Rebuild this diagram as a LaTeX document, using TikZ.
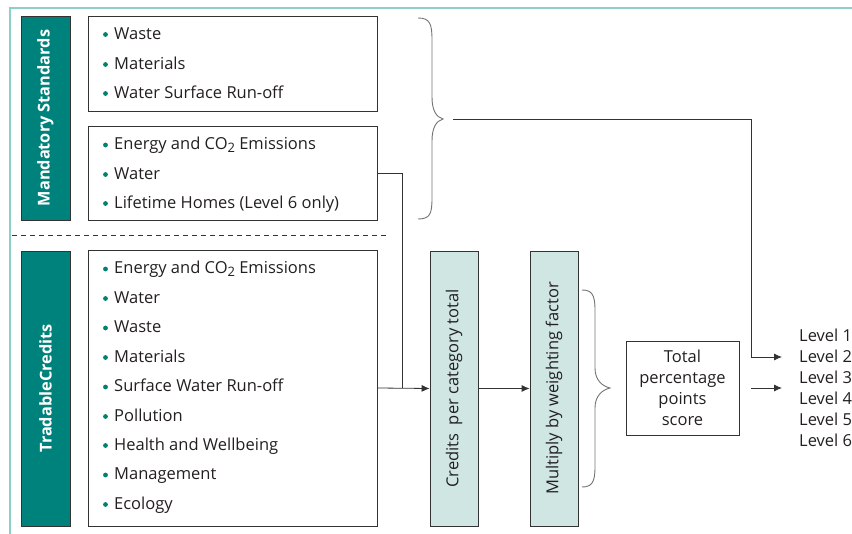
\documentclass[tikz,border=0pt]{standalone}
\usepackage{fontspec}
\setmainfont{Open Sans}
\usetikzlibrary{arrows.meta}
\definecolor{darkteal}{HTML}{00827C}
\definecolor{lightteal}{HTML}{CFE6E3}
\definecolor{framecol}{HTML}{8DCFC9}
\definecolor{bulletcol}{HTML}{00826E}
\definecolor{linecol}{HTML}{333333}
\definecolor{textcol}{HTML}{231F20}
\newcommand{\cotwo}{CO\raisebox{-0.3ex}{\fontsize{13}{13}\selectfont 2}}
\begin{document}
\begin{tikzpicture}[x=1pt,y=-1pt,font=\fontsize{16.5}{21}\selectfont,text=textcol,
  sidebox/.style={draw=linecol,fill=darkteal,line width=0.8pt,minimum width=49pt,inner sep=0pt},
  listbox/.style={draw=linecol,line width=0.8pt,minimum width=289pt,inner sep=0pt},
  stepbar/.style={draw=linecol,fill=lightteal,line width=0.8pt,minimum width=48pt,minimum height=275pt,inner sep=0pt},
  sidelabel/.style={rotate=90,text=white,font=\fontsize{16.3}{18}\selectfont\bfseries},
  item/.style={anchor=base west,inner sep=0pt},
  conn/.style={draw=linecol,line width=0.8pt},
  arr/.style={conn,-{Latex[length=8pt,width=7pt]}},
  bracecol/.style={draw=gray!90!black,line width=0.9pt}]
\useasboundingbox (0,0) rectangle (852,534);
% outer frame
\draw[framecol,line width=1.6pt] (10,534) -- (10,8) -- (852,8);
% side labels
\node[sidebox,minimum height=204pt] (ms) at (45.5,118) {};
\node[sidelabel] (msl) at (ms.center) {Mandatory Standards};
\node[sidebox,minimum height=275pt] (tc) at (45.5,388.5) {};
\node[sidelabel] (tcl) at (tc.center) {TradableCredits};
% list boxes
\node[listbox,minimum height=95pt] (m1) at (232.5,63.5) {};
\node[listbox,minimum height=94pt] (m2) at (232.5,173) {};
\node[listbox,minimum height=276pt] (tl) at (232.5,388) {};
% items
\foreach \n/\y/\t in {a1/39.5/Waste, a2/69.5/Materials, a3/98.5/Water Surface Run-off,
  b2/179.5/Water, b3/208.5/Lifetime Homes (Level 6 only),
  c2/303.5/Water, c3/333/Waste, c4/362.5/Materials, c5/392/Surface Water Run-off,
  c6/421.5/Pollution, c7/450.5/Health and Wellbeing, c8/480/Management, c9/509.5/Ecology}{
  \node[item] (\n) at (114,\y) {\t};
  \fill[bulletcol] (105.5,\y-5) circle (2.4pt);
}
\node[item] (b1) at (114,150) {Energy and \cotwo{} Emissions};
\fill[bulletcol] (105.5,145) circle (2.4pt);
\node[item] (c1) at (114,274) {Energy and \cotwo{} Emissions};
\fill[bulletcol] (105.5,269) circle (2.4pt);
% dashed separator
\draw[linecol,line width=0.8pt,dash pattern=on 5pt off 4pt] (12,235) -- (386,235);
% step bars
\node[stepbar] (cr) at (454,388.5) {};
\node[rotate=90] (crl) at (cr.center) {Credits\ \ per category total};
\node[stepbar] (mu) at (554,388.5) {};
\node[rotate=90] (mul) at (mu.center) {Multiply by weighting factor};
% total box
\node[draw=linecol,line width=0.8pt,minimum width=113pt,minimum height=94pt,align=center,inner sep=0pt] (tot) at (682.5,388) {Total\\percentage\\points\\score};
% levels
\node[anchor=west,align=left,inner sep=0pt] (lev) at (799,387.5) {Level 1\\Level 2\\Level 3\\Level 4\\Level 5\\Level 6};
% braces
\draw[bracecol] (418,18) .. controls (430,18) and (432,24) .. (432,40) -- (432,97)
  .. controls (432,110) and (436,117) .. (443,119)
  .. controls (436,121) and (432,128) .. (432,141) -- (432,198)
  .. controls (432,214) and (430,219) .. (418,219);
\draw[bracecol] (582,290) .. controls (592,290) and (595,295) .. (595,310) -- (595,368)
  .. controls (595,380) and (602,386) .. (610,388)
  .. controls (602,390) and (595,396) .. (595,408) -- (595,467)
  .. controls (595,482) and (592,487) .. (582,487);
% connectors
\coordinate (j) at (402,388);
\draw[conn] (m2.east) -| (j);
\draw[arr] (tl.east) -- (cr.west);
\draw[arr] (cr.east) -- (mu.west);
\coordinate (bt) at (453,119);
\coordinate (l2) at (782,357);
\draw[arr] (bt) -| (751,357) -- (l2);
\coordinate (ts) at (751,388);
\coordinate (l3) at (782,388);
\draw[arr] (ts) -- (l3);
\end{tikzpicture}
\end{document}
